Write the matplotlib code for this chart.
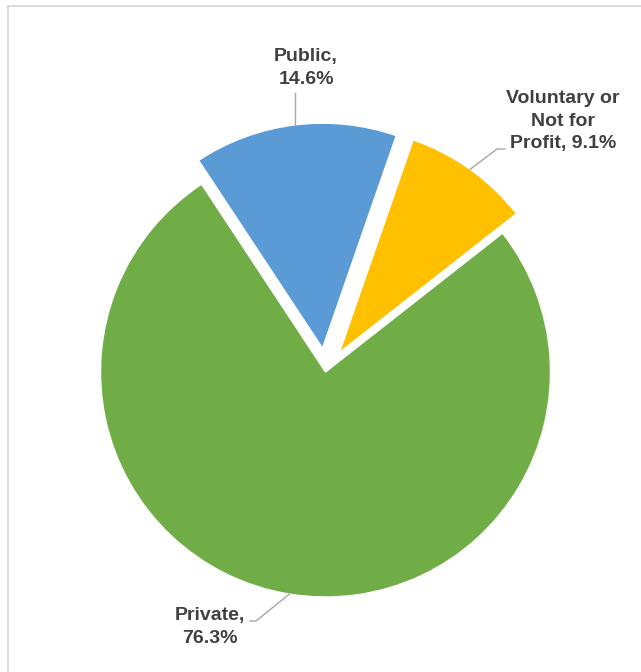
import numpy as np
import matplotlib.pyplot as plt
from matplotlib.patches import Rectangle

# ownership share of providers
sectors = ['Private', 'Public', 'Voluntary or\nNot for\nProfit']
shares = [76.3, 14.6, 9.1]
colors = ['#70AD47', '#5B9BD5', '#FFC000']
explode = [0, 24, 24]

W, H = 641, 672
fig = plt.figure(figsize=(W / 100, H / 100), dpi=100)
ax = fig.add_axes([0, 0, 1, 1])
ax.axis('off')

cx, cy, r = 325.5, H - 372, 225
start = 38.1
wedges, _ = ax.pie(shares, colors=colors, explode=explode, center=(cx, cy), radius=r,
                   startangle=start, counterclock=False,
                   wedgeprops=dict(edgecolor='white', linewidth=1))
ax.set_xlim(0, W)
ax.set_ylim(0, H)
ax.set_aspect('equal')

# chart area border
fig.patches.append(Rectangle((8 / W, -0.1), 1.2, (H - 6) / H + 0.1, transform=fig.transFigure,
                             fill=False, edgecolor='#d9d9d9', linewidth=1.3))

txt = dict(fontsize=14, fontweight='bold', color='#404040', family='Liberation Sans',
           ha='center', va='center', multialignment='center', linespacing=1.4)
lead = dict(color='#a6a6a6', linewidth=1)


def edge_point(w, extra=0):
    # point on the outer arc at the wedge's middle angle
    ang = np.deg2rad((w.theta1 + w.theta2) / 2)
    x0, y0 = w.center
    return x0 + (w.r + extra) * np.cos(ang), y0 + (w.r + extra) * np.sin(ang)


# Private
px, py = edge_point(wedges[0])
ax.plot([px, 256, 250], [py, H - 621, H - 621], **lead)
ax.text(210, H - 627, f'{sectors[0]},\n{shares[0]}%', **txt)

# Public
px, py = edge_point(wedges[1])
ax.plot([px, px], [py, H - 93], **lead)
ax.text(306, H - 68, f'{sectors[1]},\n{shares[1]}%', **txt)

# Voluntary or Not for Profit
px, py = edge_point(wedges[2])
ax.plot([px, 497, 505], [py, H - 149, H - 149], **lead)
ax.text(563, H - 121, f'{sectors[2]}, {shares[2]}%', **txt)

fig.savefig('out.png', dpi=100)
